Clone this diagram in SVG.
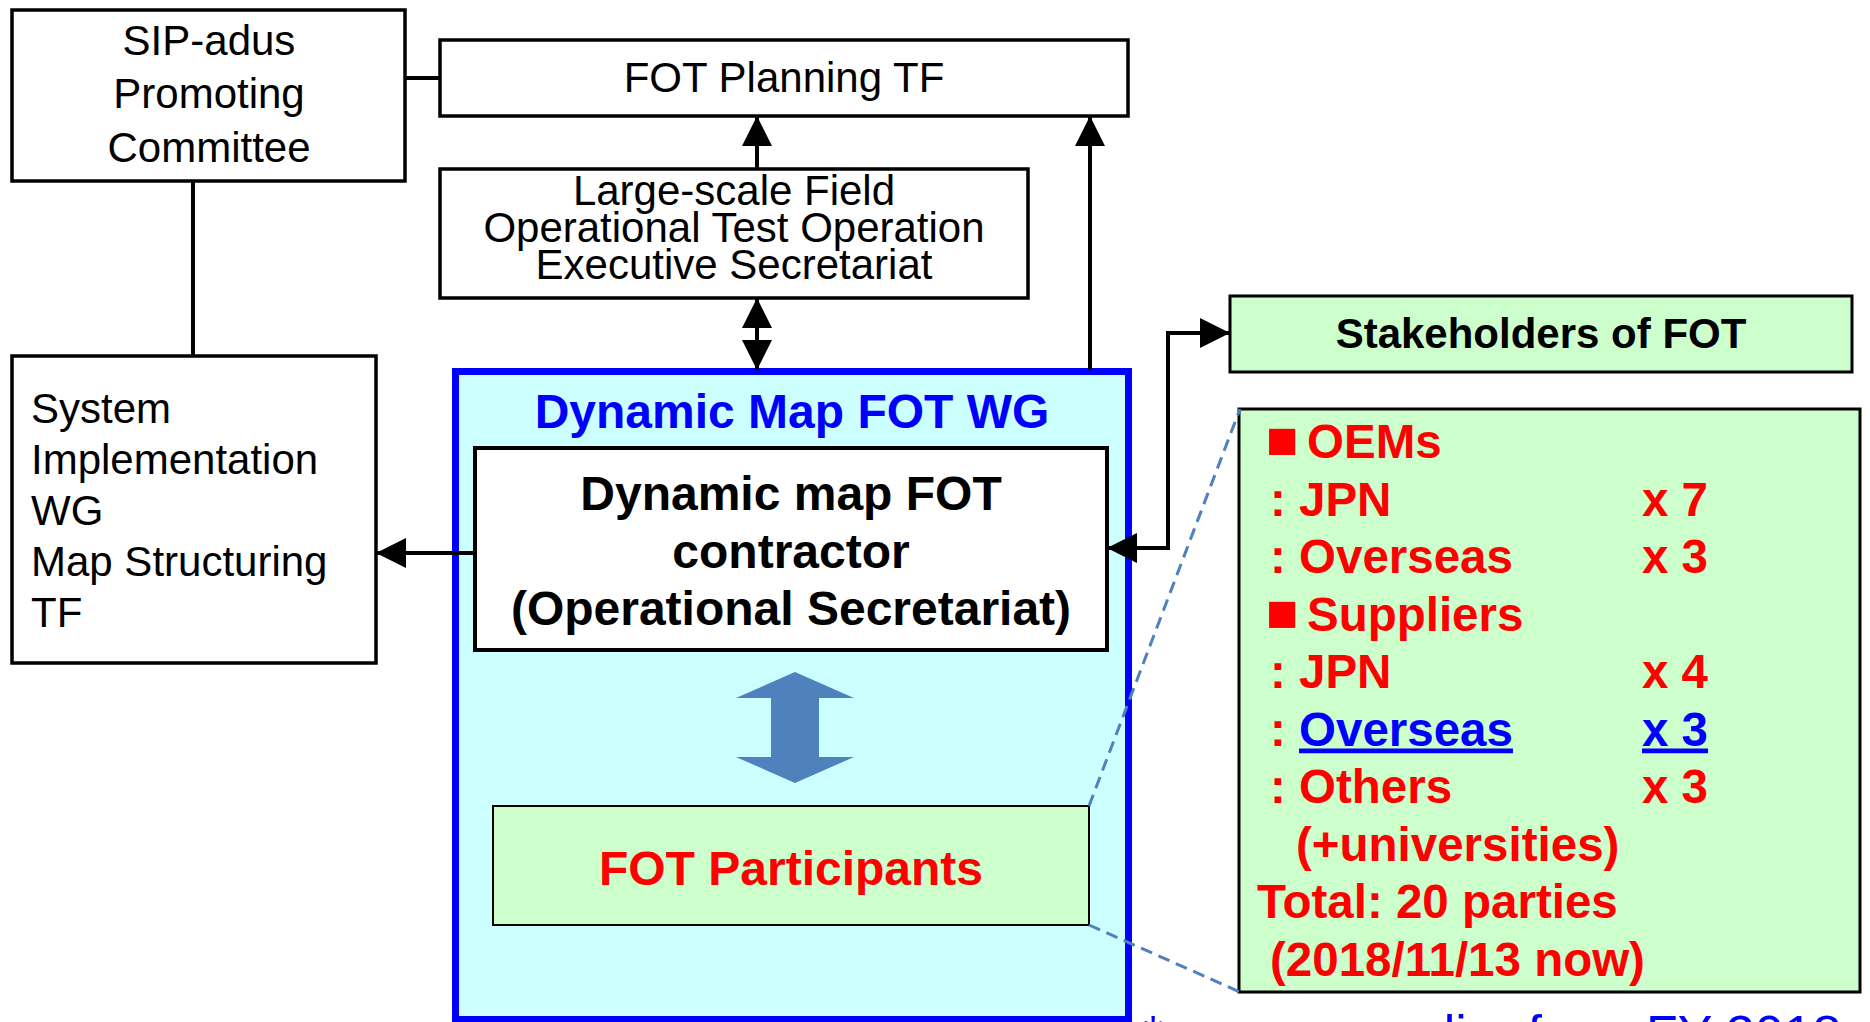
<svg xmlns="http://www.w3.org/2000/svg" width="1870" height="1022" viewBox="0 0 1870 1022">
<style>
.box{fill:#fff;stroke:#000;stroke-width:3.5}
.t{font-family:"Liberation Sans",Arial,sans-serif;font-size:42px;fill:#000}
.tc{text-anchor:middle}
.b{font-weight:bold}
.s48{font-size:48px}
.red{fill:#FF0000}
.blue{fill:#0000FF}
.line{fill:none;stroke:#000;stroke-width:4}
.dash{fill:none;stroke:#4F81BD;stroke-width:3;stroke-dasharray:12 7}
.list{font-family:"Liberation Sans",Arial,sans-serif;font-size:47.5px;font-weight:bold;fill:#FF0000}
.sq{font-size:54px}
.note{font-family:"Liberation Sans",Arial,sans-serif;font-size:52px;fill:#0000FF}
</style>
<defs>
<marker id="ah" markerUnits="userSpaceOnUse" markerWidth="30" markerHeight="30" refX="30" refY="15" orient="auto-start-reverse" viewBox="0 0 30 30">
<path d="M0,0 L30,15 L0,30 Z" fill="#000"/>
</marker>
</defs>

<g id="sip-committee">
<rect class="box" x="12" y="10" width="393" height="171"/>
<text class="t tc" x="209" y="55">SIP-adus</text>
<text class="t tc" x="209" y="108">Promoting</text>
<text class="t tc" x="209" y="162">Committee</text>
</g>

<g id="fot-planning">
<rect class="box" x="440" y="40" width="688" height="76"/>
<text class="t tc" x="784" y="92">FOT Planning TF</text>
</g>

<g id="executive-secretariat">
<rect class="box" x="440" y="169" width="588" height="129"/>
<text class="t tc" x="734" y="205">Large-scale Field</text>
<text class="t tc" x="734" y="242">Operational Test Operation</text>
<text class="t tc" x="734" y="279">Executive Secretariat</text>
</g>

<g id="system-wg">
<rect class="box" x="12" y="356" width="364" height="307"/>
<text class="t" x="31" y="423">System</text>
<text class="t" x="31" y="474">Implementation</text>
<text class="t" x="31" y="525">WG</text>
<text class="t" x="31" y="576">Map Structuring</text>
<text class="t" x="31" y="627">TF</text>
</g>

<g id="dynamic-map-wg">
<rect x="455.5" y="371.5" width="673" height="648" fill="#CCFFFF" stroke="#0000FF" stroke-width="7"/>
<text class="t tc b blue s48" x="792" y="428">Dynamic Map FOT WG</text>
</g>

<g id="contractor">
<rect class="box" x="475" y="448" width="632" height="202" style="stroke-width:4"/>
<text class="t tc b s48" x="791" y="510">Dynamic map FOT</text>
<text class="t tc b s48" x="791" y="568">contractor</text>
<text class="t tc b s48" x="791" y="625">(Operational Secretariat)</text>
</g>

<g id="fot-participants">
<rect x="493" y="806" width="596" height="119" fill="#CCFFCC" stroke="#000" stroke-width="2"/>
<text class="t tc b red s48" x="791" y="885">FOT Participants</text>
</g>

<g id="stakeholders">
<rect x="1230" y="296" width="622" height="76" fill="#CCFFCC" stroke="#000" stroke-width="3"/>
<text class="t tc b" x="1541" y="348">Stakeholders of FOT</text>
</g>

<g id="participant-list">
<rect x="1239" y="409" width="621" height="583" fill="#CCFFCC" stroke="#000" stroke-width="3"/>
<text class="list" x="1266" y="458"><tspan class="sq">■</tspan><tspan x="1307">OEMs</tspan></text>
<text class="list" x="1270" y="515.5">: JPN<tspan x="1642">x 7</tspan></text>
<text class="list" x="1270" y="573">: Overseas<tspan x="1642">x 3</tspan></text>
<text class="list" x="1266" y="630.5"><tspan class="sq">■</tspan><tspan x="1307">Suppliers</tspan></text>
<text class="list" x="1270" y="688">: JPN<tspan x="1642">x 4</tspan></text>
<text class="list" x="1270" y="745.5">: <tspan class="blue" text-decoration="underline">Overseas</tspan><tspan x="1642" class="blue" text-decoration="underline">x 3</tspan></text>
<text class="list" x="1270" y="803">: Others<tspan x="1642">x 3</tspan></text>
<text class="list" x="1296" y="860.5">(+universities)</text>
<text class="list" x="1257" y="918">Total: 20 parties</text>
<text class="list" x="1270" y="975.5">(2018/11/13 now)</text>
</g>

<g id="connectors">
<line class="line" x1="405" y1="78" x2="440" y2="78"/>
<line class="line" x1="193" y1="181" x2="193" y2="356"/>
<line class="line" x1="757" y1="169" x2="757" y2="116" marker-end="url(#ah)"/>
<line class="line" x1="757" y1="298" x2="757" y2="370" marker-start="url(#ah)" marker-end="url(#ah)"/>
<line class="line" x1="1090" y1="370" x2="1090" y2="116" marker-end="url(#ah)"/>
<line class="line" x1="475" y1="553" x2="376" y2="553" marker-end="url(#ah)"/>
<polyline class="line" points="1107,548 1168,548 1168,333 1230,333" marker-start="url(#ah)" marker-end="url(#ah)"/>
<path d="M795,672 L854,698 L819,698 L819,757 L854,757 L795,783 L736,757 L771,757 L771,698 L736,698 Z" fill="#4F81BD"/>
<line class="dash" x1="1089" y1="806" x2="1240" y2="409"/>
<line class="dash" x1="1089" y1="925" x2="1240" y2="992"/>
</g>

<text class="note" x="1143" y="1052">* a new supplier from FY 2018</text>
</svg>
